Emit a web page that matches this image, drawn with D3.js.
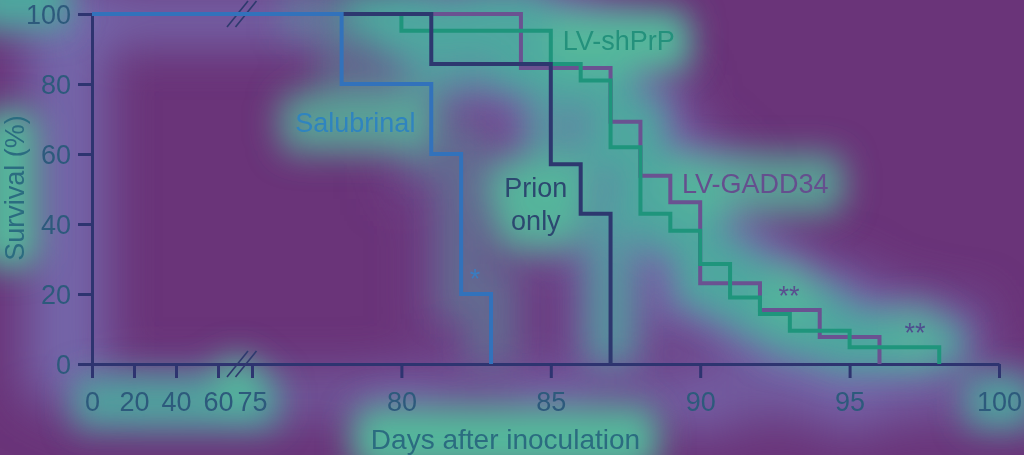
<!DOCTYPE html>
<html><head><meta charset="utf-8">
<script src="https://cdn.jsdelivr.net/npm/d3@7"></script>
<style>
html,body{margin:0;padding:0;background:#6a3479;}
svg{display:block;font-family:"Liberation Sans",Arial,Helvetica,sans-serif;}
</style>
</head><body>
<svg id="chart" width="1024" height="455"></svg>
<script>
// ---- data ----
const salubrinalDays     = [0, 78, 81, 82, 83];
const salubrinalSurvival = [100, 80, 60, 20, 0];
const prionDays          = [0, 81, 85, 86, 87];
const prionSurvival      = [100, 85.7, 57.1, 42.9, 0];
const shPrPDays          = [0, 80, 85, 86, 87, 88, 89, 90, 91, 92, 93, 95, 98];
const shPrPSurvival      = [100, 95.2, 85.7, 81.0, 61.9, 42.9, 38.1, 28.6, 19.0, 14.3, 9.5, 4.8, 0];
const gaddDays           = [0, 84, 87, 88, 89, 90, 92, 94, 96];
const gaddSurvival       = [100, 84.6, 69.2, 53.8, 46.2, 23.1, 15.4, 7.7, 0];
const yTickValues = [0, 20, 40, 60, 80, 100];
const xTickValues = [0, 20, 40, 60, 75, 80, 85, 90, 95, 100];
const seriesNames = ["LV-GADD34", "LV-shPrP", "Prion only", "Salubrinal"];

// ---- layout ----
const W = 1024, H = 455;
const svg = d3.select("#chart");
const x = d3.scaleLinear().domain([0, 60, 75, 100]).range([92, 218, 252, 999]);
const y = d3.scaleLinear().domain([0, 100]).range([364, 14]);
const FONT = 27;

const series = [
  {name: seriesNames[0], days: gaddDays, surv: gaddSurvival, color: "#6a5291", glow: 1},
  {name: seriesNames[1], days: shPrPDays, surv: shPrPSurvival, color: "#1f957c", glow: 1},
  {name: seriesNames[2], days: prionDays, surv: prionSurvival, color: "#2d386f", glow: 0.8},
  {name: seriesNames[3], days: salubrinalDays, surv: salubrinalSurvival, color: "#3272bb", glow: 0.4}
];
const lineGen = d3.line().x(d => x(d[0])).y(d => y(d[1])).curve(d3.curveStepAfter);
series.forEach(s => s.pts = s.days.map((d, i) => [d, s.surv[i]]));

const labels = [
  {text: "Salubrinal", day: 76.45, s: 66.3, anchor: "start", color: "#2f84bf", glow: 0.8},
  {text: "LV-shPrP", day: 85.4, s: 89.7, anchor: "start", color: "#24917c", glow: 1},
  {text: "Prion", day: 84.5, s: 47.7, anchor: "middle", color: "#2c4870", glow: 0.9},
  {text: "only", day: 84.5, s: 38.3, anchor: "middle", color: "#2c4870", glow: 0.9},
  {text: "LV-GADD34", day: 89.39, s: 48.9, anchor: "start", color: "#654f8e", glow: 0.8},
  {text: "*", day: 82.46, s: 21.7, anchor: "middle", color: "#3a7cc0", glow: 0},
  {text: "**", day: 92.97, s: 16.9, anchor: "middle", color: "#5a4f8f", glow: 0.8},
  {text: "**", day: 97.19, s: 6.3, anchor: "middle", color: "#4f4f8f", glow: 0.6}
];

// ---- defs ----
const defs = svg.append("defs");
function blurFilter(id, sd) {
  defs.append("filter").attr("id", id).attr("filterUnits", "userSpaceOnUse")
    .attr("x", -150).attr("y", -150).attr("width", W + 300).attr("height", H + 300)
    .append("feGaussianBlur").attr("stdDeviation", sd);
}
blurFilter("blurBig", 24);
blurFilter("blurMid", 16);

const bg = svg.append("rect").attr("width", W).attr("height", H).attr("fill", "#6a3479");

// ---- glow layers (saliency-like overlay) ----
const halo = svg.append("g").attr("filter", "url(#blurBig)");
const core = svg.append("g").attr("filter", "url(#blurMid)");
const LAV = "#7568ab", TEAL = "#4ea99f", GREEN = "#55b89b";

// axis halos
halo.append("line").attr("x1", 66).attr("x2", 66).attr("y1", -20).attr("y2", 400)
  .attr("stroke", LAV).attr("stroke-width", 80);
halo.append("line").attr("x1", 60).attr("x2", x(78)).attr("y1", y(100) + 4).attr("y2", y(100) + 4)
  .attr("stroke", LAV).attr("stroke-width", 50);
halo.append("line").attr("x1", 60).attr("x2", W + 20).attr("y1", 396).attr("y2", 396)
  .attr("stroke", LAV).attr("stroke-width", 46).attr("opacity", 0.75);
// curve halos
series.forEach(s => {
  halo.append("path").attr("d", lineGen(s.pts.slice(1)))
    .attr("fill", "none").attr("stroke", LAV).attr("stroke-width", 90).attr("opacity", 0.85 * s.glow);
});
// curve cores (only the descending parts)
series.forEach(s => {
  const pts = s.pts.slice(1);
  pts.unshift([s.days[1] - 2, 100]);
  core.append("path").attr("d", lineGen(pts)).attr("fill", "none")
    .attr("stroke", TEAL).attr("stroke-width", 50).attr("opacity", 0.9 * s.glow);
});
// the crowded top of the curves, where all groups start dying
core.append("line").attr("x1", x(79)).attr("x2", x(86.5)).attr("y1", y(95)).attr("y2", y(95))
  .attr("stroke", TEAL).attr("stroke-width", 44).attr("opacity", 0.9);

// ---- axes ----
const axisColor = "#2e3470", tickText = "#2d5a7c";
const gy = svg.append("g").attr("transform", `translate(${x(0)},0)`)
  .call(d3.axisLeft(y).tickValues(yTickValues).tickSize(14).tickSizeOuter(0).tickPadding(7));
const gx = svg.append("g").attr("transform", `translate(0,${y(0)})`)
  .call(d3.axisBottom(x).tickValues(xTickValues).tickSize(14).tickSizeOuter(0).tickPadding(14));
[gx, gy].forEach(g => {
  g.select(".domain").attr("stroke", axisColor).attr("stroke-width", 3);
  g.selectAll(".tick line").attr("stroke", axisColor).attr("stroke-width", 3);
  g.selectAll(".tick text").attr("fill", tickText).attr("font-size", FONT)
    .attr("font-family", "Liberation Sans, Arial, sans-serif");
});
gy.selectAll(".tick text").attr("dy", "0.36em");

// glow behind text (computed from real text boxes)
function textGlow(node, pad, color, op, layer) {
  const b = node.getBBox();
  const ctm = node.getCTM();
  (layer || core).append("rect").attr("x", b.x + ctm.e - pad).attr("y", b.y + ctm.f - pad)
    .attr("width", b.width + 2 * pad).attr("height", b.height + 2 * pad)
    .attr("rx", pad).attr("fill", color).attr("opacity", op);
}
gx.selectAll(".tick text").each(function(d) {
  if (d <= 75) textGlow(this, 12, TEAL, 0.9);
  else if (d === 100) textGlow(this, 12, TEAL, 0.9);
  else textGlow(this, 16, LAV, 0.8, halo);
});
gy.selectAll(".tick text").each(function() { textGlow(this, 12, LAV, 0.9, halo); });

// axis titles
const xTitle = svg.append("text").attr("x", (x(75) + x(100)) / 2 - 120).attr("y", 449)
  .attr("text-anchor", "middle").attr("font-size", 28).attr("fill", "#2b6c80")
  .text("Days after inoculation");
const yTitle = svg.append("text").attr("transform", `translate(24,${(y(0) + y(100)) / 2 - 1}) rotate(-90)`)
  .attr("text-anchor", "middle").attr("font-size", FONT).attr("fill", "#2b6c80")
  .text("Survival (%)");
textGlow(xTitle.node(), 18, GREEN, 1);
{
  const b = yTitle.node().getBBox();
  core.append("rect").attr("x", -20).attr("y", (y(0) + y(100)) / 2 - b.width / 2 - 6)
    .attr("width", 58).attr("height", b.width + 12).attr("rx", 14).attr("fill", GREEN).attr("opacity", 1);
}
// top-left corner glow
core.append("rect").attr("x", -30).attr("y", -30).attr("width", 100).attr("height", 60).attr("rx", 10)
  .attr("fill", TEAL).attr("opacity", 1);
// break glow
core.append("circle").attr("cx", x(68.6)).attr("cy", y(0) + 18).attr("r", 26).attr("fill", GREEN).attr("opacity", 0.9);

// ---- break marks ----
const bx = x(68.6);
[y(100), y(0)].forEach(by => {
  [0, 8.5].forEach(off => {
    svg.append("line").attr("x1", bx + off - 10.5).attr("y1", by + 13).attr("x2", bx + off + 10.5).attr("y2", by - 13)
      .attr("stroke", "#2e3a6e").attr("stroke-width", 1.6);
  });
});

// ---- curves ----
svg.append("g").selectAll("path").data(series).join("path")
  .attr("d", s => lineGen(s.pts)).attr("fill", "none")
  .attr("stroke", s => s.color).attr("stroke-width", 4).attr("stroke-linejoin", "miter");

// ---- labels ----
const lab = svg.append("g");
labels.forEach(l => {
  const t = lab.append("text").attr("x", x(l.day)).attr("y", y(l.s)).attr("text-anchor", l.anchor)
    .attr("font-size", FONT).attr("fill", l.color).text(l.text);
  if (l.glow > 0) textGlow(t.node(), 16, GREEN, l.glow);
});
// glow layers below everything else, background at the very bottom
core.lower(); halo.lower(); bg.lower();
</script>
</body></html>
